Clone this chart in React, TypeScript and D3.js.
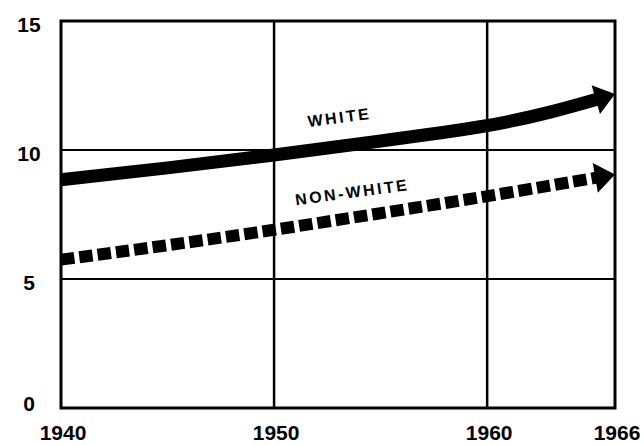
import * as d3 from 'd3'
import { useEffect, useRef } from 'react'

const W = 644
const H = 445
const M = { top: 21, right: 29, bottom: 37, left: 61 }

const years = [1940, 1945, 1950, 1955, 1960, 1963, 1966]
const white = [8.85, 9.3, 9.8, 10.35, 10.9, 11.45, 12.17]
const nonWhiteYears = [1940, 1945, 1950, 1955, 1960, 1966]
const nonWhite = [5.75, 6.3, 6.9, 7.55, 8.2, 9.05]

const xTicks = [1940, 1950, 1960, 1966]
const yTicks = [0, 5, 10, 15]
const xGrid = [1950, 1960]
const yGrid = [5, 10]

const FONT = '"Liberation Sans", Arial, sans-serif'

type Pt = { year: number; value: number }

export default function App() {
  const svgRef = useRef<SVGSVGElement>(null)

  useEffect(() => {
    const svgEl = svgRef.current
    if (!svgEl) return
    const svg = d3.select(svgEl)
    svg.selectAll('*').remove()

    const x = d3.scaleLinear().domain([1940, 1966]).range([M.left, W - M.right])
    const y = d3.scaleLinear().domain([0, 15]).range([H - M.bottom, M.top])

    // grid
    const grid = svg.append('g').attr('stroke', '#000')
    grid
      .selectAll('line.v')
      .data(xGrid)
      .join('line')
      .attr('x1', (d) => x(d))
      .attr('x2', (d) => x(d))
      .attr('y1', y(15))
      .attr('y2', y(0))
      .attr('stroke-width', 2.5)
    grid
      .selectAll('line.h')
      .data(yGrid)
      .join('line')
      .attr('x1', x(1940))
      .attr('x2', x(1966))
      .attr('y1', (d) => y(d))
      .attr('y2', (d) => y(d))
      .attr('stroke-width', 2)
    grid
      .append('rect')
      .attr('x', x(1940))
      .attr('y', y(15))
      .attr('width', x(1966) - x(1940))
      .attr('height', y(0) - y(15))
      .attr('fill', 'none')
      .attr('stroke-width', 3)

    // tick labels
    svg
      .append('g')
      .selectAll('text')
      .data(xTicks)
      .join('text')
      .attr('x', (d) => x(d) + 2)
      .attr('y', H - 5)
      .attr('text-anchor', 'middle')
      .attr('font-family', FONT)
      .attr('font-weight', 700)
      .attr('font-size', 21)
      .text((d) => String(d))
    svg
      .append('g')
      .selectAll('text')
      .data(yTicks)
      .join('text')
      .attr('x', 29)
      .attr('y', (d) => y(d) + (d === 0 ? 3 : 11))
      .attr('text-anchor', 'middle')
      .attr('font-family', FONT)
      .attr('font-weight', 700)
      .attr('font-size', 21)
      .text((d) => String(d))

    const line = d3
      .line<Pt>()
      .x((d) => x(d.year))
      .y((d) => y(d.value))
      .curve(d3.curveBasis)

    function drawArrow(data: Pt[], width: number, dash: number[] | null) {
      const path = svg
        .append('path')
        .attr('d', line(data) ?? '')
        .attr('fill', 'none')
        .attr('stroke', '#000')
        .attr('stroke-width', width)
      const node = path.node()!
      const total = node.getTotalLength()
      const headLen = 20
      const halfW = 15
      const stop = total - headLen + 2
      if (dash) {
        const parts: number[] = []
        let acc = 0
        let i = 0
        while (acc < stop) {
          const seg = Math.min(dash[i % 2], stop - acc)
          parts.push(seg)
          acc += seg
          i++
        }
        if (parts.length % 2 === 0) parts.push(0)
        parts.push(total + 100)
        path.attr('stroke-dasharray', parts.join(' '))
      } else {
        path.attr('stroke-dasharray', `${stop} ${total + 100}`)
      }
      const tip = node.getPointAtLength(total)
      const base = node.getPointAtLength(total - headLen)
      const dx = tip.x - base.x
      const dy = tip.y - base.y
      const len = Math.hypot(dx, dy)
      const px = -dy / len
      const py = dx / len
      svg
        .append('polygon')
        .attr(
          'points',
          [
            [tip.x, tip.y],
            [base.x + px * halfW, base.y + py * halfW],
            [base.x - px * halfW, base.y - py * halfW],
          ]
            .map((p) => p.join(','))
            .join(' '),
        )
        .attr('fill', '#000')
    }

    drawArrow(
      years.map((yr, i) => ({ year: yr, value: white[i] })),
      13,
      null,
    )
    drawArrow(
      nonWhiteYears.map((yr, i) => ({ year: yr, value: nonWhite[i] })),
      12,
      [13.5, 5],
    )

    // series labels
    const labels = [
      { text: 'WHITE', year: 1953.1, value: 11.05, angle: -7.5 },
      { text: 'NON-WHITE', year: 1953.7, value: 8.15, angle: -7.8 },
    ]
    svg
      .append('g')
      .selectAll('text')
      .data(labels)
      .join('text')
      .attr('transform', (d) => `translate(${x(d.year)},${y(d.value)}) rotate(${d.angle})`)
      .attr('text-anchor', 'middle')
      .attr('font-family', FONT)
      .attr('font-weight', 700)
      .attr('font-size', 16)
      .attr('letter-spacing', 2.5)
      .text((d) => d.text)
  }, [])

  return (
    <svg
      ref={svgRef}
      width={W}
      height={H}
      style={{ position: 'absolute', left: 0, top: 0, background: '#fff' }}
    />
  )
}
